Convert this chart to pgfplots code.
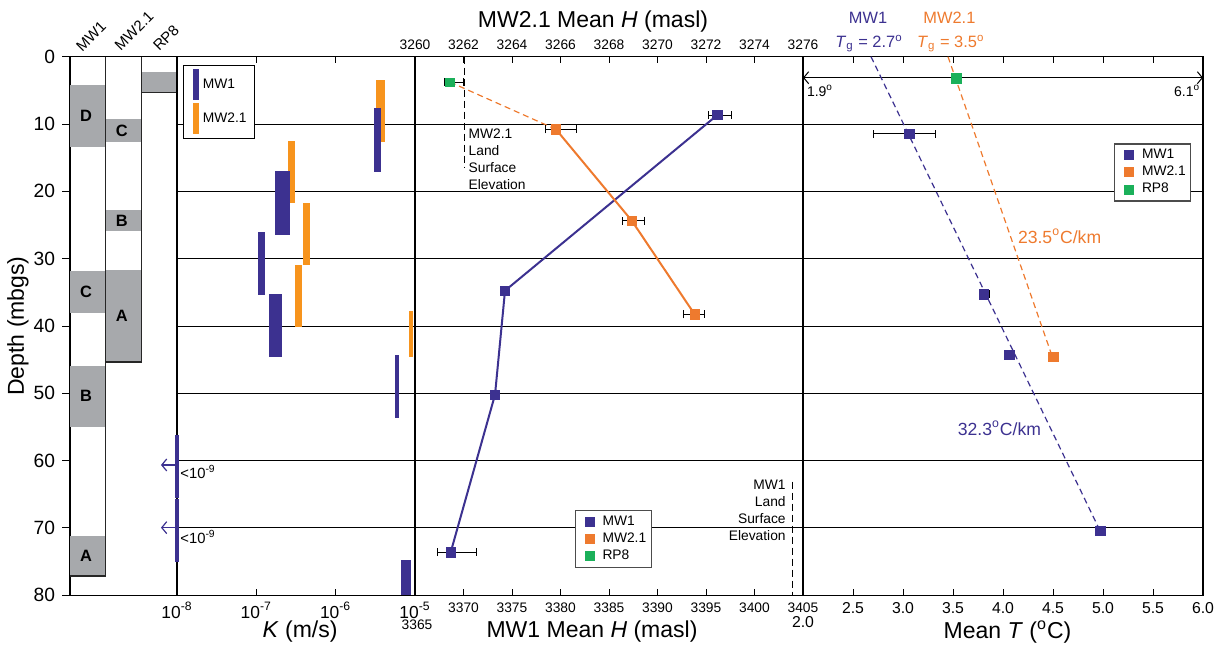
\documentclass[border=0pt]{standalone}
\usepackage{fontspec}
\setmainfont{Liberation Sans}
\usepackage{pgfplots}
\pgfplotsset{compat=1.18}
\usetikzlibrary{arrows.meta}
\definecolor{mwone}{HTML}{3C3190}
\definecolor{mwtwo}{HTML}{EE7A2E}
\definecolor{mwtwobar}{HTML}{F7941D}
\definecolor{rpeight}{HTML}{1BB05A}
\definecolor{strat}{HTML}{A7A9AC}
\newcommand{\fs}[1]{\fontsize{#1}{#1}\selectfont}
\pgfplotsset{
  panel/.style={scale only axis, anchor=south west, height=269.3pt,
    y dir=reverse, ymin=0, ymax=80,
    axis line style={line width=0.75pt}, tick align=inside, major tick length=3.3pt,
    tick style={black, line width=0.5pt},
    /pgf/number format/assume math mode=true, /pgf/number format/1000 sep={}},
  gridpanel/.style={ytick={10,20,...,70}, yticklabels={}, ymajorgrids,
    major grid style={black, line width=0.5pt}, ytick style={draw=none}},
  kbar/.style={fill=#1, draw=none, forget plot},
  kbarlegend/.style={legend image code/.code={\fill[#1] (0pt,0pt) (3pt,-7.5pt) rectangle (5.2pt,7.5pt);}},
  sqlegend/.style={legend image code/.code={\fill[#1] (0pt,0pt) (3.2pt,-2.2pt) rectangle (7.6pt,2.2pt) (10.5pt,0pt);}},
  sqmark/.style={mark=square*, mark size=2.3pt, mark options={solid, line width=0.3pt}},
  ebar/.style={error bars/x dir=both, error bars/x explicit,
    error bars/error mark=|,
    error bars/error bar style={black, line width=0.5pt, solid},
    error bars/error mark options={black, mark size=2pt, line width=0.5pt, solid}},
}
\begin{document}
\begin{tikzpicture}
\useasboundingbox (0,0) rectangle (610pt,322.5pt);

% ---------------- stratigraphy panel ----------------
\begin{axis}[panel, at={(35pt,24.85pt)}, width=53.5pt,
  xmin=0, xmax=3, xtick=\empty,
  ytick={0,10,...,80}, ytick pos=left, tick align=outside, major tick length=4pt,
  yticklabel style={font=\fs{9.6}},
  axis line style={line width=0.6pt}, clip=false]
% MW1 column
\addplot[kbar=strat] coordinates {(0,4.2) (1,4.2) (1,13.37) (0,13.37)} -- cycle;
\addplot[kbar=strat] coordinates {(0,31.78) (1,31.78) (1,38.02) (0,38.02)} -- cycle;
\addplot[kbar=strat] coordinates {(0,45.94) (1,45.94) (1,54.95) (0,54.95)} -- cycle;
\addplot[kbar=strat] coordinates {(0,71.19) (1,71.19) (1,77.12) (0,77.12)} -- cycle;
% MW2.1 column
\addplot[kbar=strat] coordinates {(1,9.25) (2,9.25) (2,12.62) (1,12.62)} -- cycle;
\addplot[kbar=strat] coordinates {(1,22.77) (2,22.77) (2,25.84) (1,25.84)} -- cycle;
\addplot[kbar=strat] coordinates {(1,31.68) (2,31.68) (2,45.34) (1,45.34)} -- cycle;
% RP8 column
\addplot[kbar=strat] coordinates {(2,2.27) (3,2.27) (3,5.29) (2,5.29)} -- cycle;
% column outlines
\addplot[black!85, line width=0.6pt, forget plot] coordinates {(0,77.12) (1,77.12) (1,0)};
\addplot[black!85, line width=0.6pt, forget plot] coordinates {(1,45.34) (2,45.34) (2,0)};
\addplot[black!85, line width=0.6pt, forget plot] coordinates {(2,5.29) (3,5.29)};
% unit letters
\begin{scope}[font=\bfseries\fs{8.2}]
\node at (axis cs:0.45,8.8) {D};
\node at (axis cs:0.45,34.9) {C};
\node at (axis cs:0.45,50.4) {B};
\node at (axis cs:0.45,74.2) {A};
\node at (axis cs:1.45,11.0) {C};
\node at (axis cs:1.45,24.4) {B};
\node at (axis cs:1.45,38.5) {A};
\end{scope}
\end{axis}

% ---------------- K panel ----------------
\begin{axis}[panel, gridpanel, at={(88.5pt,24.85pt)}, width=119pt,
  xmode=log, xmin=1e-8, xmax=1e-5, xminorticks=false,
  xtick={1e-8,1e-7,1e-6,1e-5},
  xticklabels={10\textsuperscript{-8},10\textsuperscript{-7},10\textsuperscript{-6},10\textsuperscript{-5}},
  xticklabel style={font=\fs{8.7}},
  clip=false,
  legend style={at={(axis description cs:0.025,0.985)}, anchor=north west,
    draw=black, line width=0.5pt, font=\fs{6.9}, inner sep=2pt, row sep=1.5pt},
  legend cell align=left]
\draw[line width=1.1pt] (axis description cs:0,0) -- (axis description cs:0,1);
\addlegendimage{kbarlegend=mwone}\addlegendentry{MW1}
\addlegendimage{kbarlegend=mwtwobar}\addlegendentry{MW2.1}
% MW2.1 (orange) bars
\addplot[kbar=mwtwobar] coordinates {(3.22e-6,3.46) (4.19e-6,3.46) (4.19e-6,12.62) (3.22e-6,12.62)} -- cycle;
\addplot[kbar=mwtwobar] coordinates {(2.53e-7,12.52) (3.05e-7,12.52) (3.05e-7,21.68) (2.53e-7,21.68)} -- cycle;
\addplot[kbar=mwtwobar] coordinates {(3.87e-7,21.68) (4.75e-7,21.68) (4.75e-7,30.94) (3.87e-7,30.94)} -- cycle;
\addplot[kbar=mwtwobar] coordinates {(3.07e-7,30.94) (3.73e-7,30.94) (3.73e-7,40.1) (3.07e-7,40.1)} -- cycle;
\addplot[kbar=mwtwobar] coordinates {(8.47e-6,37.72) (9.53e-6,37.72) (9.53e-6,44.56) (8.47e-6,44.56)} -- cycle;
% MW1 (blue) bars
\addplot[kbar=mwone] coordinates {(3.04e-6,7.62) (3.70e-6,7.62) (3.70e-6,17.08) (3.04e-6,17.08)} -- cycle;
\addplot[kbar=mwone] coordinates {(1.72e-7,16.97) (2.65e-7,16.97) (2.65e-7,26.44) (1.72e-7,26.44)} -- cycle;
\addplot[kbar=mwone] coordinates {(1.05e-7,26.04) (1.29e-7,26.04) (1.29e-7,35.39) (1.05e-7,35.39)} -- cycle;
\addplot[kbar=mwone] coordinates {(1.46e-7,35.24) (2.11e-7,35.24) (2.11e-7,44.56) (1.46e-7,44.56)} -- cycle;
\addplot[kbar=mwone] coordinates {(5.60e-6,44.26) (6.28e-6,44.26) (6.28e-6,53.62) (5.60e-6,53.62)} -- cycle;
\addplot[kbar=mwone] coordinates {(9.44e-9,56.2) (1.06e-8,56.2) (1.06e-8,65.6) (9.44e-9,65.6)} -- cycle;
\addplot[kbar=mwone] coordinates {(9.44e-9,65.7) (1.06e-8,65.7) (1.06e-8,75.0) (9.44e-9,75.0)} -- cycle;
\addplot[kbar=mwone] coordinates {(6.67e-6,74.75) (8.91e-6,74.75) (8.91e-6,80) (6.67e-6,80)} -- cycle;
% arrows for K < 1e-9
\addplot[mwone, line width=0.6pt, -{Straight Barb[length=2.5pt,width=6pt]}, forget plot] coordinates {(1e-8,60.64) (6.28e-9,60.64)};
\addplot[mwone, line width=0.6pt, -{Straight Barb[length=2.5pt,width=6pt]}, forget plot] coordinates {(1e-8,69.95) (6.28e-9,69.95)};
\end{axis}

% ---------------- H panel, bottom axis (MW1) ----------------
\begin{axis}[panel, gridpanel, at={(207.5pt,24.85pt)}, width=194pt,
  xmin=3365, xmax=3405, xtick={3370,3375,...,3405}, xtick pos=left,
  xticklabel style={font=\fs{6.9}}, clip=false]
\draw[line width=1.1pt] (axis description cs:0,0) -- (axis description cs:0,1);
\addplot[black, dash pattern=on 3.5pt off 2pt, line width=0.6pt, forget plot]
  coordinates {(3403.9,63.1) (3403.9,80)};
\addplot[mwone, line width=1pt, sqmark, ebar, forget plot] coordinates {
  (3396.17,8.66) += (1.41,0) -= (0.93,0)
  (3374.28,34.75) += (0,0) -= (0,0)
  (3373.25,50.2) += (0,0) -= (0,0)
  (3368.68,73.6) += (2.64,0) -= (1.34,0)
};
\end{axis}

% ---------------- H panel, top axis (MW2.1, RP8) ----------------
\begin{axis}[scale only axis, anchor=south west, at={(207.5pt,24.85pt)}, width=194pt, height=269.3pt,
  y dir=reverse, ymin=0, ymax=80, axis x line*=top, axis y line=none, ytick=\empty,
  xmin=3260, xmax=3276, xtick={3260,3262,...,3276},
  tick align=inside, major tick length=3.3pt, tick style={black, line width=0.5pt},
  axis line style={line width=0.75pt},
  /pgf/number format/assume math mode=true, /pgf/number format/1000 sep={},
  xticklabel style={font=\fs{6.9}}, clip=false,
  legend style={at={(axis description cs:0.4116,0.1584)}, anchor=north west,
    draw=black!70, line width=0.6pt, font=\fs{6.9}, inner sep=1.5pt, row sep=0.3pt,
    nodes={inner sep=1pt}},
  legend cell align=left]
\addlegendimage{sqlegend=mwone}\addlegendentry{MW1}
\addlegendimage{sqlegend=mwtwo}\addlegendentry{MW2.1}
\addlegendimage{sqlegend=rpeight}\addlegendentry{RP8}
\addplot[black, dash pattern=on 3.5pt off 2pt, line width=0.6pt, forget plot]
  coordinates {(3262.03,0) (3262.03,16.5)};
\addplot[mwtwo, dash pattern=on 3pt off 2pt, line width=0.6pt, forget plot]
  coordinates {(3261.44,3.76) (3265.81,10.78)};
\addplot[mwtwo, line width=1pt, sqmark, ebar, forget plot] coordinates {
  (3265.81,10.78) += (0.87,0) -= (0.42,0)
  (3268.94,24.36) += (0.52,0) -= (0.39,0)
  (3271.53,38.26) += (0.42,0) -= (0.45,0)
};
\addplot[rpeight, only marks, sqmark, mark size=2.1pt, ebar, forget plot] coordinates {
  (3261.44,3.76) += (0.54,0) -= (0.24,0)
};
\end{axis}

% ---------------- Temperature panel ----------------
\begin{axis}[panel, gridpanel, at={(401.5pt,24.85pt)}, width=200pt,
  xmin=2, xmax=6, xtick={2.5,3,...,6}, scaled x ticks=false,
  xticklabel style={font=\fs{7.9}, /pgf/number format/.cd, fixed, fixed zerofill, precision=1},
  clip=false,
  legend style={at={(axis description cs:0.778,0.839)}, anchor=north west,
    draw=black!70, line width=0.6pt, font=\fs{6.9}, inner sep=1.5pt, row sep=0.3pt,
    nodes={inner sep=1pt}},
  legend cell align=left]
\draw[line width=1.1pt] (axis description cs:0,0) -- (axis description cs:0,1);
\addlegendimage{sqlegend=mwone}\addlegendentry{MW1}
\addlegendimage{sqlegend=mwtwo}\addlegendentry{MW2.1}
\addlegendimage{sqlegend=rpeight}\addlegendentry{RP8}
\addplot[black, line width=0.5pt, {Straight Barb[length=2.5pt,width=6pt]}-{Straight Barb[length=2.5pt,width=6pt]}, forget plot]
  coordinates {(2,3.12) (6,3.12)};
\addplot[mwone, dash pattern=on 3pt off 2pt, line width=0.6pt, forget plot]
  coordinates {(2.68,0) (4.97,70.4)};
\addplot[mwtwo, dash pattern=on 3pt off 2pt, line width=0.6pt, forget plot]
  coordinates {(3.45,0) (4.48,44.0)};
\addplot[mwone, only marks, sqmark, ebar, forget plot] coordinates {
  (3.063,11.48) += (0.26,0) -= (0.357,0)
  (3.807,35.29) += (0.057,0) -= (0,0)
  (4.063,44.3) += (0,0) -= (0,0)
  (4.973,70.4) += (0.05,0) -= (0,0)
};
\addplot[mwtwo, only marks, sqmark, forget plot] coordinates {(4.503,44.6)};
\addplot[rpeight, only marks, sqmark, forget plot] coordinates {(3.533,3.21)};
\end{axis}

% ---------------- labels and annotations ----------------
\node[rotate=90, font=\fs{11.5}] at (9pt,159.5pt) {Depth (mbgs)};
\node[rotate=45, font=\fs{7.5}] at (45.5pt,304.5pt) {MW1};
\node[rotate=45, font=\fs{7.5}] at (67pt,307pt) {MW2.1};
\node[rotate=45, font=\fs{7.5}] at (83pt,303.5pt) {RP8};

\node[font=\fs{11.5}] at (150pt,6.65pt) {\textit{K} (m/s)};
\node[font=\fs{11.5}] at (296pt,6.5pt) {MW1 Mean \textit{H} (masl)};
\node[font=\fs{11.5}] at (503.75pt,6.65pt) {Mean \textit{T} (\textsuperscript{o}C)};
\node[font=\fs{11.5}] at (296.5pt,311.65pt) {MW2.1 Mean \textit{H} (masl)};
\node[font=\fs{6.9}] at (208.5pt,10pt) {3365};
\node[font=\fs{7.9}] at (401.5pt,11.65pt) {2.0};

\node[anchor=base west, font=\fs{7.4}, inner sep=0pt] at (90pt,83.35pt) {<10\textsuperscript{-9}};
\node[anchor=base west, font=\fs{7.4}, inner sep=0pt] at (90pt,50.85pt) {<10\textsuperscript{-9}};

\node[anchor=north west, align=left, font=\fontsize{6.9}{8.5}\selectfont, inner sep=0pt]
  at (234.15pt,258.35pt) {MW2.1\\Land\\Surface\\Elevation};
\node[anchor=north east, align=right, font=\fontsize{6.9}{8.5}\selectfont, inner sep=0pt]
  at (393pt,82.85pt) {MW1\\Land\\Surface\\Elevation};

\node[font=\fs{8.2}, text=mwone] at (434pt,313.5pt) {MW1};
\node[anchor=base, font=\fs{8.2}, text=mwone] at (434.5pt,299pt) {\textit{T}\textsubscript{g} = 2.7\textsuperscript{o}};
\node[font=\fs{8.2}, text=mwtwo] at (474.7pt,313.5pt) {MW2.1};
\node[anchor=base, font=\fs{8.2}, text=mwtwo] at (475.4pt,299pt) {\textit{T}\textsubscript{g} = 3.5\textsuperscript{o}};

\node[anchor=base west, font=\fs{7}, inner sep=0pt] at (403.3pt,274.2pt) {1.9\textsuperscript{o}};
\node[anchor=base east, font=\fs{7}, inner sep=0pt] at (600.3pt,274.2pt) {6.1\textsuperscript{o}};
\node[anchor=base west, font=\fs{8.8}, text=mwtwo, inner sep=0pt] at (508.8pt,200.8pt) {23.5\textsuperscript{o}C/km};
\node[anchor=base west, font=\fs{8.8}, text=mwone, inner sep=0pt] at (478.7pt,105pt) {32.3\textsuperscript{o}C/km};
\end{tikzpicture}
\end{document}
